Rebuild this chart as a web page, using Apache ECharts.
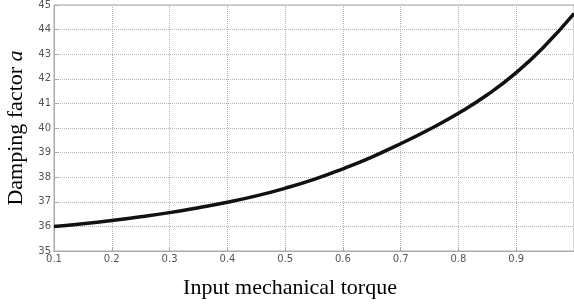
<!DOCTYPE html>
<html>
<head>
<meta charset="utf-8">
<script src="https://cdn.jsdelivr.net/npm/echarts@6/dist/echarts.min.js"></script>
<style>
  html, body { margin: 0; padding: 0; background: #fff; }
  #chart { width: 574px; height: 304px; }
</style>
</head>
<body>
<div id="chart"></div>
<script>
// torque values (x) and damping factor (y)
const torque = [0.1, 0.15, 0.2, 0.25, 0.3, 0.35, 0.4, 0.45, 0.5, 0.55, 0.6, 0.65, 0.7, 0.75, 0.8, 0.85, 0.9, 0.95, 1.0];
const damping = [36.0, 36.11, 36.24, 36.39, 36.56, 36.76, 36.98, 37.24, 37.55, 37.91, 38.34, 38.82, 39.36, 39.95, 40.6, 41.35, 42.25, 43.35, 44.65];

let chart = echarts.init(document.getElementById("chart"));
let option = {
    animation: false,
    grid: {
        left: 54,
        right: 0,
        top: 5,
        bottom: 53,
        outerBoundsMode: "none",
        show: true,
        borderColor: "#aaa",
        borderWidth: 1,
    },
    xAxis: {
        type: "value",
        min: 0.1,
        max: 1.0,
        interval: 0.1,
        name: "Input mechanical torque",
        nameLocation: "middle",
        nameGap: 26,
        nameTextStyle: {
            fontFamily: "Liberation Serif",
            fontSize: 22,
            color: "#000",
            padding: [0, 48, 0, 0],
        },
        axisLine: { lineStyle: { color: "#aaa" } },
        axisTick: { inside: true, length: 4, lineStyle: { color: "#aaa" } },
        axisLabel: {
            fontFamily: "DejaVu Sans",
            fontSize: 10,
            color: "#555",
            margin: 3,
            formatter: (v) => (v >= 0.999 ? "" : (+v.toFixed(1)).toString()),
        },
        splitLine: { show: true, lineStyle: { color: "#b4b4b4", type: "dotted" } },
    },
    yAxis: {
        type: "value",
        min: 35,
        max: 45,
        interval: 1,
        name: "{n|Damping factor }{i|a}",
        nameLocation: "middle",
        nameRotate: 90,
        nameGap: 24,
        nameTextStyle: {
            rich: {
                n: { fontFamily: "Liberation Serif", fontSize: 22, color: "#000" },
                i: { fontFamily: "Liberation Serif", fontSize: 22, fontStyle: "italic", color: "#000" },
            },
        },
        axisLine: { show: true, lineStyle: { color: "#aaa" } },
        axisTick: { show: true, inside: true, length: 4, lineStyle: { color: "#aaa" } },
        axisLabel: {
            fontFamily: "DejaVu Sans",
            fontSize: 10,
            color: "#555",
            margin: 3,
        },
        splitLine: { show: true, lineStyle: { color: "#b4b4b4", type: "dotted" } },
    },
    series: [
        {
            type: "line",
            data: torque.map((t, i) => [t, damping[i]]),
            smooth: true,
            showSymbol: false,
            lineStyle: { color: "#111", width: 3.5 },
        },
    ],
};
chart.setOption(option);
</script>
</body>
</html>
